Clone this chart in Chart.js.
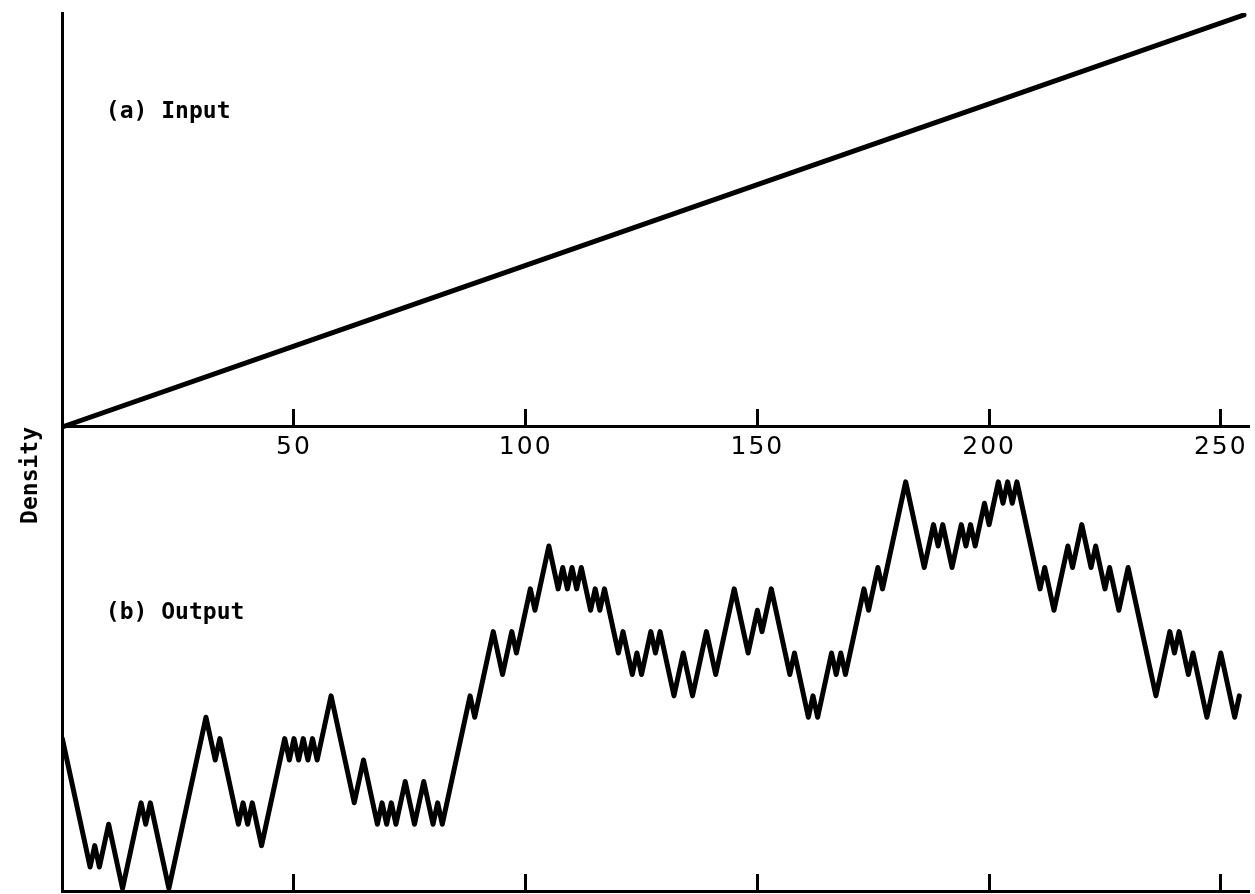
<!DOCTYPE html>
<html>
<head>
<meta charset="utf-8">
<title>Density: input ramp and output trace</title>
<script src="https://cdn.jsdelivr.net/npm/chart.js@4/dist/chart.umd.min.js"></script>
<style>
  html, body { margin: 0; padding: 0; background: #ffffff; }
  #wrap { position: relative; width: 1255px; height: 894px; }
</style>
</head>
<body>
<div id="wrap"><canvas id="chart" width="1255" height="894"></canvas></div>
<script>
// Tick positions on both horizontal axes
const tickValues = [50, 100, 150, 200, 250];

// (a) Input: linear density ramp
const inputX       = [0, 50, 100, 150, 200, 255];
const inputDensity = [0, 50, 100, 150, 200, 255];

// (b) Output: turning points of the output trace (step, level)
const outputX = [
  0, 6, 7, 8, 10, 13, 17, 18, 19, 23,
  31, 33, 34, 38, 39, 40, 41, 43, 48, 49,
  50, 51, 52, 53, 54, 55, 58, 63, 65, 68,
  69, 70, 71, 72, 74, 76, 78, 80, 81, 82,
  88, 89, 93, 95, 97, 98, 101, 102, 105, 107,
  108, 109, 110, 111, 112, 114, 115, 116, 117, 120,
  121, 123, 124, 125, 127, 128, 129, 132, 134, 136,
  139, 141, 145, 148, 150, 151, 153, 157, 158, 161,
  162, 163, 166, 167, 168, 169, 173, 174, 176, 177,
  182, 186, 188, 189, 190, 192, 194, 195, 196, 197,
  199, 200, 202, 203, 204, 205, 206, 211, 212, 214,
  217, 218, 220, 222, 223, 225, 226, 228, 230, 236,
  239, 240, 241, 243, 244, 247, 250, 253, 254
];
const outputLevel = [
  7, 1, 2, 1, 3, 0, 4, 3, 4, 0,
  8, 6, 7, 3, 4, 3, 4, 2, 7, 6,
  7, 6, 7, 6, 7, 6, 9, 4, 6, 3,
  4, 3, 4, 3, 5, 3, 5, 3, 4, 3,
  9, 8, 12, 10, 12, 11, 14, 13, 16, 14,
  15, 14, 15, 14, 15, 13, 14, 13, 14, 11,
  12, 10, 11, 10, 12, 11, 12, 9, 11, 9,
  12, 10, 14, 11, 13, 12, 14, 10, 11, 8,
  9, 8, 11, 10, 11, 10, 14, 13, 15, 14,
  19, 15, 17, 16, 17, 15, 17, 16, 17, 16,
  18, 17, 19, 18, 19, 18, 19, 14, 15, 13,
  16, 15, 17, 15, 16, 14, 15, 13, 15, 9,
  12, 11, 12, 10, 11, 8, 11, 8, 9
];

// Text drawn inside the plot
const panelTitles = ['(a) Input', '(b) Output'];
const axisCaption = 'Density';

const INK = '#000000';
const OUT_MIN = -0.12;
const OUT_MAX = 40.91;
const IN_MIN = -287.2;
const IN_MAX = 256.2;

// Panel titles and the vertical "Density" caption
const captionPlugin = {
  id: 'captions',
  afterDatasetsDraw(chart, args, opts) {
    const ctx = chart.ctx;
    const sx = chart.scales.x;
    ctx.save();
    ctx.letterSpacing = '0px';
    ctx.fillStyle = INK;
    ctx.font = opts.font;
    ctx.textAlign = 'left';
    ctx.textBaseline = 'alphabetic';
    opts.items.forEach(item => {
      ctx.fillText(item.text, sx.getPixelForValue(item.x), chart.scales[item.scale].getPixelForValue(item.y));
    });
    const c = opts.caption;
    ctx.translate(chart.chartArea.left - c.offset, chart.scales.yIn.getPixelForValue(c.at));
    ctx.rotate(-Math.PI / 2);
    ctx.textAlign = 'center';
    ctx.textBaseline = 'middle';
    ctx.fillText(c.text, 0, 0);
    ctx.restore();
  }
};

// Slightly spaced tick digits
const spacingPlugin = {
  id: 'tickSpacing',
  beforeDraw(chart) { chart.ctx.letterSpacing = '2px'; },
  afterDraw(chart) { chart.ctx.letterSpacing = '0px'; }
};

const fixedTicks = scale => { scale.ticks = tickValues.map(v => ({ value: v })); };
// keep the end labels from shrinking the plot area
const noEdgePadding = scale => { scale.paddingLeft = 0; scale.paddingRight = 0; };

const axisGrid = {
  display: true,
  drawOnChartArea: false,
  drawTicks: true,
  tickLength: -19,
  lineWidth: 3,
  color: INK,
  tickColor: INK
};

new Chart(document.getElementById('chart'), {
  type: 'line',
  data: {
    datasets: [
      {
        label: 'Input',
        data: inputX.map((x, i) => ({ x, y: inputDensity[i] })),
        xAxisID: 'x',
        yAxisID: 'yIn',
        borderColor: INK,
        borderWidth: 5,
        pointRadius: 0,
        tension: 0,
        borderCapStyle: 'round',
        borderJoinStyle: 'round'
      },
      {
        label: 'Output',
        data: outputX.map((x, i) => ({ x, y: outputLevel[i] })),
        xAxisID: 'x',
        yAxisID: 'y',
        borderColor: INK,
        borderWidth: 5,
        pointRadius: 0,
        tension: 0,
        borderCapStyle: 'round',
        borderJoinStyle: 'round'
      }
    ]
  },
  options: {
    responsive: false,
    animation: false,
    events: [],
    layout: { padding: { top: 13, right: 6.4, bottom: 3, left: 0 } },
    plugins: {
      legend: { display: false },
      tooltip: { enabled: false },
      captions: {
        font: 'bold 23px "DejaVu Sans Mono"',
        items: [
          { text: panelTitles[0], x: 9.4, scale: 'yIn', y: 191 },
          { text: panelTitles[1], x: 9.4, scale: 'y', y: 12.6 }
        ],
        caption: { text: axisCaption, offset: 31, at: -30 }
      }
    },
    scales: {
      y: {
        type: 'linear',
        position: 'left',
        min: OUT_MIN,
        max: OUT_MAX,
        ticks: { display: false },
        grid: { display: false, drawTicks: false },
        border: { display: true, width: 3, color: INK },
        afterFit: scale => { scale.width = 62.3; }
      },
      yIn: {
        type: 'linear',
        axis: 'y',
        position: 'left',
        display: false,
        min: IN_MIN,
        max: IN_MAX
      },
      x: {
        type: 'linear',
        axis: 'x',
        position: { y: OUT_MIN },
        min: 0,
        max: 256,
        afterBuildTicks: fixedTicks,
        afterFit: noEdgePadding,
        ticks: { display: false },
        grid: axisGrid,
        border: { display: true, width: 3, color: INK }
      },
      x2: {
        type: 'linear',
        axis: 'x',
        position: { yIn: 0 },
        min: 0,
        max: 256,
        afterBuildTicks: fixedTicks,
        afterFit: noEdgePadding,
        ticks: {
          display: true,
          color: INK,
          padding: 24.5,
          maxRotation: 0,
          autoSkip: false,
          font: { family: 'DejaVu Sans', size: 25 }
        },
        grid: axisGrid,
        border: { display: true, width: 3, color: INK }
      }
    }
  },
  plugins: [captionPlugin, spacingPlugin]
});
</script>
</body>
</html>
